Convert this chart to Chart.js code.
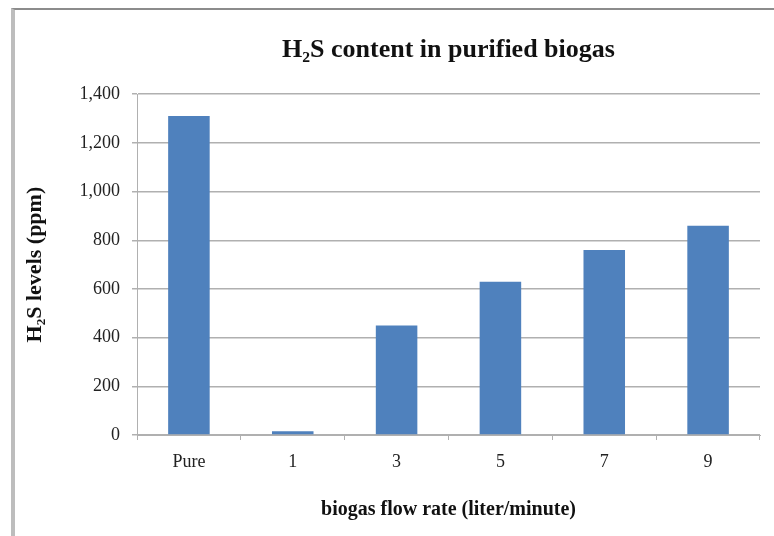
<!DOCTYPE html>
<html>
<head>
<meta charset="utf-8">
<script src="https://cdn.jsdelivr.net/npm/chart.js@4.4.0/dist/chart.umd.min.js"></script>
<style>
    html, body { margin: 0; padding: 0; background: #fff; }
    #wrap { position: relative; width: 774px; height: 536px; overflow: hidden; }
    #frame {
        position: absolute; left: 11px; top: 8px; width: 800px; height: 600px;
        border-left: 4px solid #bdbdbd; border-top: 2px solid #8c8c8c;
    }
    #chart { position: absolute; left: 0; top: 0; }
</style>
</head>
<body>
<div id="wrap">
    <div id="frame"></div>
    <canvas id="chart" width="774" height="536"></canvas>
</div>
<script>
const categories = ['Pure', '1', '3', '5', '7', '9'];
const h2sLevels = [1310, 15, 450, 630, 760, 860];
const yTicks = [0, 200, 400, 600, 800, 1000, 1200, 1400];

const serif = '"Liberation Serif", "Times New Roman", serif';
const gridColor = '#b0b0b0';

const ctx = document.getElementById('chart').getContext('2d');

new Chart(ctx, {
    type: 'bar',
    data: {
        labels: categories,
        datasets: [{
            label: 'H₂S levels (ppm)',
            data: h2sLevels,
            backgroundColor: '#4f81bd',
            borderWidth: 0,
            barPercentage: 0.4,
            categoryPercentage: 1.0
        }]
    },
    options: {
        responsive: false,
        animation: false,
        layout: {
            padding: { left: 18, right: 14, top: 0, bottom: 14 }
        },
        plugins: {
            legend: { display: false },
            tooltip: { enabled: false },
            title: {
                display: true,
                text: 'H₂S content in purified biogas',
                fullSize: false,
                color: '#111',
                font: { family: serif, size: 26, weight: 'bold' },
                padding: { top: 35, bottom: 28 }
            }
        },
        scales: {
            x: {
                grid: {
                    display: true,
                    offset: true,
                    drawOnChartArea: false,
                    drawTicks: true,
                    tickLength: 5,
                    color: gridColor
                },
                border: { display: true, color: gridColor },
                ticks: {
                    color: '#222',
                    padding: 11,
                    font: { family: serif, size: 18 }
                },
                title: {
                    display: true,
                    text: 'biogas flow rate (liter/minute)',
                    color: '#111',
                    font: { family: serif, size: 20, weight: 'bold' },
                    padding: { top: 0, bottom: 0 }
                },
                afterFit: function(scale) {
                    scale.height = 87;
                }
            },
            y: {
                min: 0,
                max: 1400,
                afterBuildTicks: function(scale) {
                    scale.ticks = yTicks.map(v => ({ value: v }));
                },
                grid: {
                    color: gridColor,
                    tickLength: 5,
                    lineWidth: 1.5
                },
                border: { display: true, color: gridColor },
                ticks: {
                    color: '#222',
                    padding: 12,
                    font: { family: serif, size: 18 },
                    callback: function(value) {
                        return value.toLocaleString('en-US');
                    }
                },
                title: {
                    display: true,
                    text: 'H₂S levels (ppm)',
                    color: '#111',
                    font: { family: serif, size: 22, weight: 'bold' },
                    padding: { top: 4, bottom: 0 }
                },
                afterFit: function(scale) {
                    scale.width = 119;
                }
            }
        }
    }
});
</script>
</body>
</html>
